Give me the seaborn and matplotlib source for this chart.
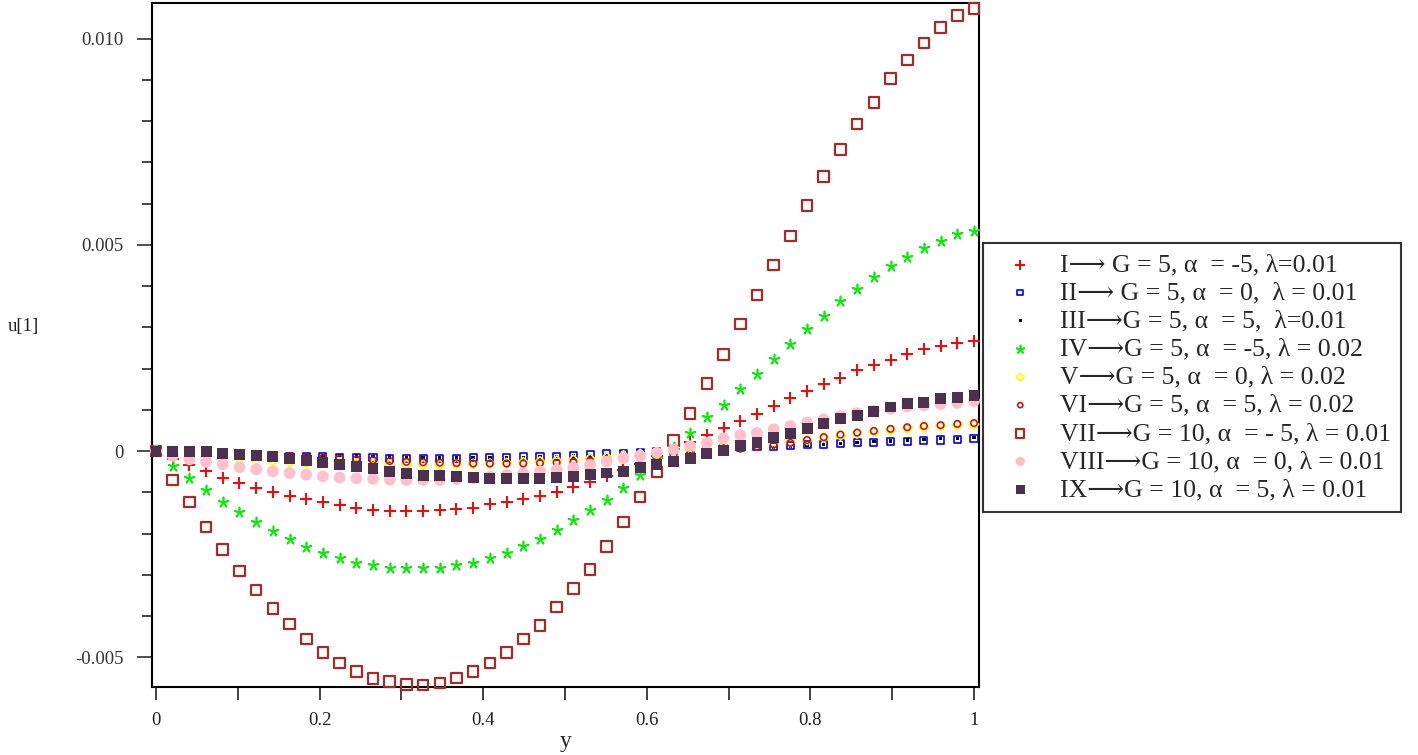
import numpy as np
import pandas as pd
import matplotlib
matplotlib.use("Agg")
import matplotlib.pyplot as plt
import seaborn as sns

# ---------------- data ----------------
y_grid = np.linspace(0, 1, 50)

s_I = [0, -0.0002, -0.00033, -0.00049, -0.00065, -0.00077, -0.00089, -0.00099, -0.00109, -0.00117,
       -0.00124, -0.00131, -0.00138, -0.00142, -0.00144, -0.00144, -0.00144, -0.00143, -0.0014, -0.00137,
       -0.00129, -0.00123, -0.00116, -0.00108, -0.00098, -0.00086, -0.00074, -0.00061, -0.00046, -0.0003,
       -0.00013, 0.00004, 0.00021, 0.0004, 0.00057, 0.00074, 0.00091, 0.00109, 0.00128, 0.00147,
       0.00162, 0.00178, 0.00196, 0.0021, 0.00222, 0.00236, 0.00247, 0.00255, 0.00263, 0.00267]

s_II = [0, -0.00002, -0.00004, -0.00006, -0.00008, -0.00009, -0.0001, -0.00011, -0.00012, -0.00013,
        -0.00014, -0.00015, -0.00016, -0.00016, -0.00017, -0.00017, -0.00017, -0.00017, -0.00017, -0.00016,
        -0.00016, -0.00015, -0.00014, -0.00013, -0.00012, -0.00011, -0.00009, -0.00007, -0.00005, -0.00003,
        -0.00001, 0.00001, 0.00003, 0.00005, 0.00007, 0.00009, 0.00011, 0.00012, 0.00013, 0.00015,
        0.00016, 0.00018, 0.0002, 0.00022, 0.00023, 0.00024, 0.00026, 0.00027, 0.00028, 0.0003]

s_III = [0, -0.00001, -0.00002, -0.00003, -0.00004, -0.00005, -0.00006, -0.00007, -0.00008, -0.00009,
         -0.0001, -0.00011, -0.00012, -0.00013, -0.00014, -0.00015, -0.00015, -0.00016, -0.00016, -0.00016,
         -0.00016, -0.00016, -0.00015, -0.00014, -0.00013, -0.00012, -0.00011, -0.0001, -0.00009, -0.00008,
         -0.00007, -0.00006, -0.00004, -0.00002, 0.00001, 0.00003, 0.00006, 0.00009, 0.00011, 0.00014,
         0.00016, 0.00019, 0.00021, 0.00023, 0.00025, 0.00027, 0.00028, 0.0003, 0.00031, 0.00033]

s_IV = [0, -0.00036, -0.00065, -0.00095, -0.00124, -0.00148, -0.00172, -0.00193, -0.00214, -0.00232,
        -0.00248, -0.00259, -0.00271, -0.00277, -0.00283, -0.00284, -0.00284, -0.00283, -0.00277, -0.00271,
        -0.00259, -0.00247, -0.00231, -0.00213, -0.00192, -0.00168, -0.00143, -0.00118, -0.0009, -0.00058,
        -0.0002, 0.0001, 0.00043, 0.00082, 0.00113, 0.00151, 0.00188, 0.00224, 0.00259, 0.00295,
        0.00328, 0.00364, 0.00394, 0.00422, 0.00449, 0.00471, 0.00493, 0.0051, 0.00526, 0.00534]

s_V = [0, -0.00005, -0.00009, -0.00012, -0.00016, -0.00019, -0.00022, -0.00024, -0.00026, -0.00028,
       -0.00029, -0.0003, -0.00031, -0.00032, -0.00033, -0.00033, -0.00033, -0.00033, -0.00032, -0.00031,
       -0.0003, -0.00029, -0.00027, -0.00025, -0.00023, -0.00021, -0.00018, -0.00015, -0.00011, -0.00007,
       -0.00003, 0.0, 0.00003, 0.00006, 0.0001, 0.00013, 0.00016, 0.00019, 0.00022, 0.00027,
       0.00033, 0.00038, 0.00043, 0.00047, 0.00051, 0.00055, 0.00058, 0.00061, 0.00063, 0.00065]

s_VI = [0, -0.00001, -0.00002, -0.00003, -0.00004, -0.00006, -0.00008, -0.0001, -0.00012, -0.00014,
        -0.00016, -0.00018, -0.0002, -0.00022, -0.00024, -0.00026, -0.00027, -0.00028, -0.00029, -0.0003,
        -0.0003, -0.0003, -0.0003, -0.00029, -0.00028, -0.00027, -0.00025, -0.00023, -0.0002, -0.00017,
        -0.00014, -0.00011, -0.00007, -0.00003, 0.00002, 0.00006, 0.00011, 0.00016, 0.0002, 0.00027,
        0.00034, 0.0004, 0.00045, 0.00049, 0.00054, 0.00058, 0.00061, 0.00063, 0.00066, 0.00068]

s_VII = [0, -0.0007, -0.00123, -0.00184, -0.00239, -0.00291, -0.00337, -0.00382, -0.00419, -0.00456,
         -0.00489, -0.00514, -0.00534, -0.00551, -0.00558, -0.00566, -0.00567, -0.00562, -0.0055, -0.00534,
         -0.00514, -0.00489, -0.00456, -0.00423, -0.00378, -0.00333, -0.00287, -0.00231, -0.00172, -0.00111,
         -0.00051, 0.00026, 0.00091, 0.00164, 0.00235, 0.00308, 0.00379, 0.00451, 0.00522, 0.00596,
         0.00666, 0.00731, 0.00793, 0.00846, 0.00904, 0.00949, 0.0099, 0.01027, 0.01056, 0.01074]

s_VIII = [0, -0.00012, -0.0002, -0.00026, -0.00032, -0.00039, -0.00044, -0.00049, -0.00053, -0.00057,
          -0.00061, -0.00064, -0.00066, -0.00067, -0.00069, -0.0007, -0.0007, -0.0007, -0.00068, -0.00065,
          -0.00062, -0.00058, -0.00054, -0.00049, -0.00045, -0.0004, -0.00033, -0.00025, -0.00017, -0.00012,
          -0.00004, 0.00004, 0.00012, 0.0002, 0.00031, 0.00039, 0.00044, 0.00053, 0.00061, 0.00069,
          0.00077, 0.00085, 0.00092, 0.00098, 0.00103, 0.00108, 0.00111, 0.00114, 0.00117, 0.00121]

s_IX = [0, 0, 0, -0.00002, -0.00006, -0.00008, -0.0001, -0.00013, -0.00017, -0.00023,
        -0.00028, -0.00032, -0.00037, -0.00042, -0.00049, -0.00054, -0.00058, -0.0006, -0.00062, -0.00065,
        -0.00066, -0.00066, -0.00066, -0.00066, -0.00065, -0.00061, -0.00057, -0.00053, -0.00049, -0.0004,
        -0.00033, -0.00026, -0.00017, -0.00006, 0.00002, 0.00013, 0.00021, 0.00034, 0.00042, 0.00054,
        0.00066, 0.00079, 0.00087, 0.00095, 0.00107, 0.00115, 0.00119, 0.00128, 0.00131, 0.00135]

labels = [
    "I\u27f6 G = 5, \u03b1  = -5, \u03bb=0.01",
    "II\u27f6 G = 5, \u03b1  = 0,  \u03bb = 0.01",
    "III\u27f6G = 5, \u03b1  = 5,  \u03bb=0.01",
    "IV\u27f6G = 5, \u03b1  = -5, \u03bb = 0.02",
    "V\u27f6G = 5, \u03b1  = 0, \u03bb = 0.02",
    "VI\u27f6G = 5, \u03b1  = 5, \u03bb = 0.02",
    "VII\u27f6G = 10, \u03b1  = - 5, \u03bb = 0.01",
    "VIII\u27f6G = 10, \u03b1  = 0, \u03bb = 0.01",
    "IX\u27f6G = 10, \u03b1  = 5, \u03bb = 0.01",
]

xtick_vals = [0, 0.2, 0.4, 0.6, 0.8, 1.0]
xtick_labels = ["0", "0.2", "0.4", "0.6", "0.8", "1"]
ytick_vals = [-0.005, 0, 0.005, 0.010]
ytick_labels = ["-0.005", "0", "0.005", "0.010"]

# ---------------- style ----------------
sns.set_style("ticks")
plt.rcParams["font.family"] = ["Liberation Serif", "DejaVu Serif", "DejaVu Sans"]

W, H = 1418, 755
fig = plt.figure(figsize=(W / 100, H / 100), dpi=100)
ax = fig.add_axes([151.5 / W, 1 - 687 / H, (979 - 151.5) / W, (687 - 2.5) / H])

series = [s_I, s_II, s_III, s_IV, s_V, s_VI, s_VII, s_VIII, s_IX]
styles = [
    dict(marker="+", s=70, color="#ff0000", linewidth=1.4),
    dict(marker="s", s=26, facecolor="none", edgecolor="#0000ff", linewidth=1.2),
    dict(marker="s", s=6, color="#000000", edgecolor="none", linewidth=0),
    dict(marker=(5, 2, 0), s=52, color="#00ee00", linewidth=1.2),
    dict(marker="D", s=24, facecolor="none", edgecolor="#ffff00", linewidth=1.2),
    dict(marker="o", s=22, facecolor="none", edgecolor="#e00000", linewidth=1.1),
    dict(marker="s", s=58, facecolor="none", edgecolor="#a52a2a", linewidth=1.6),
    dict(marker="o", s=72, color="#ffc0cb", edgecolor="none", linewidth=0),
    dict(marker="s", s=62, color="#4b3050", edgecolor="none", linewidth=0),
]

for k, (vals, st, lab) in enumerate(zip(series, styles, labels)):
    df = pd.DataFrame({"y": y_grid, "u": vals})
    sns.scatterplot(data=df, x="y", y="u", ax=ax, label=lab, zorder=3 + k, clip_on=False, **st)

ax.set_xlim(-0.0055, 1.0061)
ax.set_ylim(-0.00572, 0.01088)

ax.set_xticks(xtick_vals)
ax.set_xticklabels(xtick_labels)
ax.set_xticks(np.arange(0.1, 1.0, 0.2), minor=True)
ax.set_yticks(ytick_vals)
ax.set_yticklabels(ytick_labels)
ax.set_yticks([v / 1000 for v in range(-5, 11)], minor=True)

ax.tick_params(axis="x", which="both", direction="out", length=9, width=1.2, labelsize=13.5,
               pad=9, colors="#222222")
ax.tick_params(axis="y", which="major", direction="out", length=11, width=1.2, labelsize=13.5,
               pad=9, colors="#333333")
ax.tick_params(axis="y", which="minor", direction="out", length=7, width=1.2)

for sp in ax.spines.values():
    sp.set_visible(True)
    sp.set_color("black")
    sp.set_linewidth(1.5)

ax.set_xlabel("")
ax.set_ylabel("")
fig.text(566 / W, 1 - 742 / H, "y", ha="center", va="center", fontsize=17)
fig.text(23 / W, 1 - 326 / H, "u[1]", ha="center", va="center", fontsize=13.5, color="#222222")

handles, labs = ax.get_legend_handles_labels()
if ax.get_legend() is not None:
    ax.get_legend().remove()
leg = fig.legend(handles, labs, loc="upper left", bbox_to_anchor=(983 / W, 1 - 243 / H),
                 frameon=True, fancybox=False, fontsize=18.5, handlelength=2.1,
                 handletextpad=0.5, borderpad=0.4, labelspacing=0.2, markerscale=0.8,
                 borderaxespad=0)
leg.get_frame().set_edgecolor("black")
leg.get_frame().set_linewidth(1.5)

fig.savefig("out.png", dpi=100)
